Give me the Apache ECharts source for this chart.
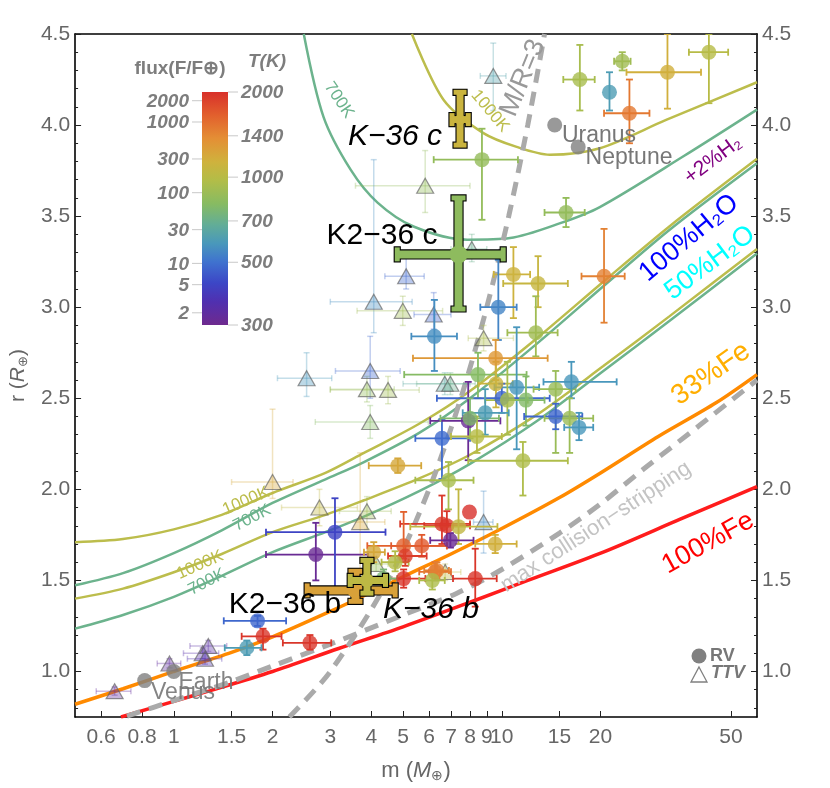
<!DOCTYPE html>
<html><head><meta charset="utf-8">
<script src="https://cdn.jsdelivr.net/npm/echarts@6/dist/echarts.min.js"></script>
<style>html,body{margin:0;padding:0;background:#fff}#c{width:830px;height:788px}</style>
</head><body><div id="c"></div>
<script>
// ---------- tick labels ----------
const xTicks = [0.6, 0.8, 1, 1.5, 2, 3, 4, 5, 6, 7, 8, 9, 10, 15, 20, 50];
const yTicks = [1.0, 1.5, 2.0, 2.5, 3.0, 3.5, 4.0, 4.5];
const yMinor = [0.8,0.9,1.1,1.2,1.3,1.4,1.6,1.7,1.8,1.9,2.1,2.2,2.3,2.4,2.6,2.7,2.8,2.9,3.1,3.2,3.3,3.4,3.6,3.7,3.8,3.9,4.1,4.2,4.3,4.4];
const fluxTicks = [2000, 1000, 300, 100, 30, 10, 5, 2];
const tempTicks = [2000, 1400, 1000, 700, 500, 300];

// ---------- model curves (mass, radius) ----------
const fe100M = [0.69, 1, 1.26, 2, 3.18, 5, 8, 12, 20.3, 35, 60];
const fe100R = [0.75, 0.836, 0.889, 1.0, 1.126, 1.245, 1.38, 1.50, 1.654, 1.836, 2.015];
const fe33M = [0.5, 0.7, 1, 1.5, 2, 3, 4, 5, 7, 10, 15, 20, 30, 45, 60];
const fe33R = [0.82, 0.905, 1.0, 1.105, 1.19, 1.33, 1.435, 1.52, 1.645, 1.785, 1.955, 2.09, 2.29, 2.475, 2.63];
const collM = [0.72, 1, 1.5, 2, 3, 5, 7.3, 10, 15, 20, 27, 40, 60];
const collR = [0.755, 0.84, 0.945, 1.03, 1.15, 1.31, 1.43, 1.56, 1.76, 1.92, 2.11, 2.35, 2.6];
const mr3M = [2.25, 3, 4.5, 6, 7.5, 9, 10.5, 12, 13.5];
const mr3R = [0.75, 1.0, 1.5, 2.0, 2.5, 3.0, 3.5, 4.0, 4.5];
const h2oM = [0.5, 0.7, 1, 1.4, 2, 2.9, 3.8, 5.6, 8, 12.8, 20.4, 32.5, 60];
const w100hotR  = [1.71, 1.727, 1.78, 1.86, 1.98, 2.09, 2.20, 2.36, 2.54, 2.83, 3.14, 3.445, 3.815];
const w100warmR = [1.473, 1.54, 1.65, 1.775, 1.925, 2.055, 2.15, 2.31, 2.50, 2.80, 3.115, 3.425, 3.79];
const w50hotR   = [1.40, 1.455, 1.545, 1.645, 1.765, 1.86, 1.94, 2.06, 2.19, 2.41, 2.677, 2.951, 3.32];
const w50warmR  = [1.235, 1.31, 1.41, 1.525, 1.655, 1.765, 1.85, 1.99, 2.14, 2.375, 2.65, 2.925, 3.295];
const h2warmM = [2.49, 2.86, 3.46, 4.18, 5.38, 7.85, 10.6, 15, 19.9, 35.6, 60];
const h2warmR = [4.5, 4.045, 3.755, 3.574, 3.443, 3.371, 3.38, 3.46, 3.55, 3.826, 4.085];
const h2hotM = [5.32, 6.65, 8.79, 11.1, 14.0, 19.9, 31.7, 60];
const h2hotR = [4.5, 4.138, 3.956, 3.88, 3.837, 3.873, 4.028, 4.235];

// ---------- RV planets ----------
const rvM   = [1.80,1.87,1.67,2.60,2.71,3.10,4.82,6.57,6.88,7.97,6.57,6.8,7.38,6.97,5.02,5.7,5.08,5.02,6.26,4.73,4.07,4.36,8.3,9.55,6.34,6.14,10.85,12.9,20.5,9.76,12.7,9.58,8.46,6.23,9.6,11.1,10.0,10.4,11.85,8.9,14.6,16.3,14.6,16.1,17.2,7.9,8.0,8.4,11.6,8.7,15.7,17.3,23.3,21.3,24.5,32,42.8];
const rvMlo = [1.42,1.61,1.43,2.15,1.91,1.91,3.93,5.45,5.45,7.97,4.9,5.8,5.26,6.05,3.89,4.6,4.5,4.46,5.6,4.3,3.8,4.0,7.1,8.3,5.8,5.6,9.45,10.1,17.5,8.6,10.4,5.36,5.04,5.3,8.5,9.5,6.34,8.9,10.0,7.6,12.5,13.4,11.7,13.5,15.5,6.05,6.5,7.0,7.9,6.2,13.5,15.4,22.0,21.3,20.5,24,37.2];
const rvMhi = [2.20,2.13,1.85,3.02,3.91,4.42,5.68,8.0,8.2,7.97,8.0,8.0,9.7,8.2,6.8,6.8,5.9,5.85,7.0,5.2,4.4,4.8,9.65,11.1,6.9,6.7,12.2,15.9,23.7,11.1,14.8,13.8,11.9,7.3,10.8,13.0,14.0,12.0,13.5,10.5,16.8,22.4,17.6,19.0,19.0,9.9,9.8,10.0,15.9,11.2,17.9,19.2,24.7,21.3,28.2,40.5,49];
const rvR   = [1.278,1.193,1.13,1.157,1.642,1.765,2.13,2.28,2.05,1.875,1.81,1.80,1.795,1.72,1.69,1.69,1.634,1.51,1.547,1.60,1.655,1.51,1.51,1.70,1.555,1.50,3.18,3.13,3.17,3.0,2.86,2.72,2.63,2.84,2.58,2.56,2.50,2.49,2.49,2.42,2.55,2.59,2.40,2.39,2.34,2.376,2.39,2.29,2.157,3.81,3.52,4.25,4.35,4.18,4.065,4.29,4.40];
const rvRlo = [1.25,1.12,1.09,1.12,1.50,1.445,2.09,2.057,1.89,1.875,1.70,1.72,1.70,1.68,1.62,1.63,1.58,1.46,1.50,1.55,1.60,1.46,1.356,1.65,1.51,1.45,2.94,3.0,2.915,2.82,2.73,2.60,2.50,2.65,2.45,2.22,2.42,2.30,2.35,2.30,2.20,2.50,2.33,2.20,2.27,2.16,2.28,2.20,1.966,3.48,3.44,4.08,4.30,4.08,3.90,4.09,4.12];
const rvRhi = [1.305,1.235,1.17,1.20,1.816,1.951,2.17,2.386,2.15,1.875,1.966,1.88,2.0,1.76,1.876,1.75,1.69,1.56,1.60,1.66,1.71,1.56,1.674,1.75,1.60,1.55,3.33,3.28,3.43,3.26,3.06,2.82,2.75,3.04,2.70,2.89,2.58,2.70,2.62,2.55,2.65,2.70,2.47,2.50,2.42,2.59,2.50,2.40,2.26,3.98,3.60,4.44,4.40,4.29,4.25,4.5,4.5];
const rvT   = [480,1950,600,1950,310,415,1200,490,930,2000,1930,1960,1050,310,1650,1700,1900,1950,1550,980,1200,760,1950,1150,1450,950,1120,1080,1450,540,900,1300,800,560,1100,580,480,930,790,600,870,580,480,880,580,310,780,1000,960,850,850,930,900,600,1500,1150,1000];

// ---------- TTV planets ----------
const ttvM   = [0.66,0.97,1.225,1.274,1.245,2.0,2.78,3.88,3.7,3.97,4.14,6.72,8.8,5.84,4.07,4.99,5.11,6.2,2.54,3.97,3.88,4.5,8.8,6.7,6.97,9.42,8.1];
const ttvMlo = [0.58,0.89,1.07,1.12,1.10,1.5,2.13,3.2,3.1,2.7,3.8,6.0,8.2,3.58,3.0,3.62,4.4,5.4,2.07,3.11,3.0,3.0,7.9,5.0,5.5,8.6,7.0];
const ttvMhi = [0.74,1.05,1.37,1.45,1.40,2.31,3.63,4.6,4.4,5.97,4.5,7.5,9.4,8.0,5.33,6.6,5.8,7.0,3.03,4.9,4.7,5.6,10.85,8.0,8.3,10.3,9.0];
const ttvR   = [0.892,1.044,1.10,1.14,1.07,2.04,1.90,1.88,1.82,2.37,1.59,1.546,1.82,3.667,3.03,2.98,3.17,2.96,2.61,2.65,2.55,2.546,2.83,2.58,2.58,4.27,3.32];
const ttvRlo = [0.87,1.02,1.07,1.11,1.04,1.95,1.80,1.78,1.55,2.28,1.55,1.50,1.65,3.52,2.86,2.90,3.10,2.88,2.51,2.50,2.48,2.47,2.76,2.52,2.52,4.08,3.25];
const ttvRhi = [0.915,1.07,1.13,1.17,1.10,2.44,2.0,1.96,2.2,2.46,1.63,1.59,1.99,3.86,3.81,3.06,3.30,3.08,2.75,2.84,2.62,2.62,2.90,2.64,2.64,4.45,3.40];
const ttvT   = [320,330,350,340,360,1200,1050,900,1200,800,850,1050,550,850,560,900,480,470,580,480,850,900,950,650,700,620,700];

// ---------- Solar system ----------
const solarNames = ['Venus', 'Earth', 'Uranus', 'Neptune'];
const solarM = [0.815, 1.0, 14.5, 17.1];
const solarR = [0.95, 1.0, 4.0, 3.88];

// ---------- highlighted planets ----------
const hiNames = ['K2-36 c', 'K-36 c', 'K2-36 b', 'K-36 b'];
const hiM   = [7.38, 7.46, 3.58, 3.88];
const hiMlo = [4.8, 7.05, 2.55, 3.45];
const hiMhi = [10.1, 7.9, 4.73, 4.42];
const hiR   = [3.29, 4.03, 1.445, 1.50];
const hiRlo = [2.99, 3.89, 1.385, 1.43];
const hiRhi = [3.60, 4.18, 1.55, 1.61];
const hiT   = [830, 1100, 1240, 1030];

// ---------- styling helpers ----------
const L = Math.log10;
const FONT = '"Liberation Sans", Arial, sans-serif';
const cmap = [[0,'#6e2a8e'],[0.1,'#5030b0'],[0.18,'#3c46c6'],[0.27,'#3f72cf'],[0.35,'#4998bb'],[0.43,'#62ad97'],[0.52,'#87bb62'],[0.62,'#b2bd48'],[0.70,'#cfb23d'],[0.80,'#e48f35'],[0.90,'#e2602d'],[1,'#d8302a']];
function hex(h){return [parseInt(h.slice(1,3),16),parseInt(h.slice(3,5),16),parseInt(h.slice(5,7),16)];}
const T0 = 300, T1 = 2000;
function tFrac(T){return Math.max(0, Math.min(1, (L(T)-L(T0))/(L(T1)-L(T0))));}
function tColor(T, a){
  const t = tFrac(T);
  let i = 0; while (i < cmap.length-2 && t > cmap[i+1][0]) i++;
  const f = (t - cmap[i][0])/(cmap[i+1][0]-cmap[i][0]);
  const c0 = hex(cmap[i][1]), c1 = hex(cmap[i+1][1]);
  const c = c0.map((v,k)=>Math.round(v + (c1[k]-v)*f));
  return a == null ? `rgb(${c[0]},${c[1]},${c[2]})` : `rgba(${c[0]},${c[1]},${c[2]},${a})`;
}
const OLIVE = '#bcbd4c', TEAL = '#6cb38d';

function curve(ms, rs, color, width, dash, z){
  return {type:'line', data: ms.map((m,i)=>[L(m), rs[i]]), smooth:0.3, showSymbol:false, symbol:'none',
    lineStyle:{color, width, type: dash || 'solid', cap:'butt'}, z: z||2, silent:true, clip:true, animation:false};
}
function errSeries(M, Mlo, Mhi, R, Rlo, Rhi, colors, lw, cap, z){
  return {type:'custom', clip:true, silent:true, animation:false, z,
    data: M.map((m,i)=>[L(m), R[i], L(Mlo[i]), L(Mhi[i]), Rlo[i], Rhi[i]]),
    encode:{x:[0,2,3], y:[1,4,5]},
    renderItem:(p, api)=>{
      const c = colors[p.dataIndex];
      const pc = api.coord([api.value(0), api.value(1)]);
      const pl = api.coord([api.value(2), api.value(1)]);
      const ph = api.coord([api.value(3), api.value(1)]);
      const pb = api.coord([api.value(0), api.value(4)]);
      const pt = api.coord([api.value(0), api.value(5)]);
      const st = {stroke:c, lineWidth:lw};
      const ln = (x1,y1,x2,y2)=>({type:'line', shape:{x1,y1,x2,y2}, style:st});
      const ch = [];
      if (ph[0]-pl[0] > 1){
        ch.push(ln(pl[0],pc[1],ph[0],pc[1]), ln(pl[0],pc[1]-cap,pl[0],pc[1]+cap), ln(ph[0],pc[1]-cap,ph[0],pc[1]+cap));
      }
      if (pb[1]-pt[1] > 1){
        ch.push(ln(pc[0],pt[1],pc[0],pb[1]), ln(pc[0]-cap,pt[1],pc[0]+cap,pt[1]), ln(pc[0]-cap,pb[1],pc[0]+cap,pb[1]));
      }
      return {type:'group', children:ch};
    }};
}

const rvCol = rvT.map(t=>tColor(t));
const ttvCol = ttvT.map(t=>tColor(t, 0.32));
const ttvFill = ttvT.map(t=>tColor(t, 0.45));
const hiCol = hiT.map(t=>tColor(t));
const hiThick = [8, 7, 8, 7];
const hiDot = [9, 5, 8, 7];

const series = [
  curve(h2warmM, h2warmR, TEAL, 2.5),
  curve(h2hotM, h2hotR, OLIVE, 2.5),
  curve(h2oM, w100hotR, OLIVE, 2.5),
  curve(h2oM, w100warmR, TEAL, 2.5),
  curve(h2oM, w50hotR, OLIVE, 2.5),
  curve(h2oM, w50warmR, TEAL, 2.5),
  curve(fe33M, fe33R, '#ff8a00', 3.5, null, 3),
  curve(fe100M, fe100R, '#ff1c1c', 3.5, null, 3),
  curve(collM, collR, '#aaaaaa', 5, [14, 9], 3),
  curve(mr3M, mr3R, '#aaaaaa', 5, [14, 9], 3),
  errSeries(ttvM, ttvMlo, ttvMhi, ttvR, ttvRlo, ttvRhi, ttvCol, 1.5, 3, 4),
  {type:'scatter', z:5, symbol:'triangle', symbolSize:[17,15], silent:true, animation:false,
    data: ttvM.map((m,i)=>({value:[L(m), ttvR[i]], itemStyle:{color: ttvFill[i], borderColor:'rgba(100,100,100,0.85)', borderWidth:1.2}}))},
  errSeries(rvM, rvMlo, rvMhi, rvR, rvRlo, rvRhi, rvCol, 1.8, 3.5, 6),
  {type:'scatter', z:7, symbol:'circle', symbolSize:15, silent:true, animation:false,
    data: rvM.map((m,i)=>({value:[L(m), rvR[i]], itemStyle:{color: rvCol[i]}}))},
  {type:'scatter', z:7, symbol:'circle', symbolSize:15, silent:true, animation:false,
    data: solarM.map((m,i)=>({name: solarNames[i], value:[L(m), solarR[i]]})), itemStyle:{color:'#808080'}},
  {type:'custom', z:9, clip:true, silent:true, animation:false,
    data: hiM.map((m,i)=>[L(m), hiR[i], L(hiMlo[i]), L(hiMhi[i]), hiRlo[i], hiRhi[i]]),
    encode:{x:[0,2,3], y:[1,4,5]},
    renderItem:(p, api)=>{
      const i = p.dataIndex, c = hiCol[i], th = hiThick[i];
      const pc = api.coord([api.value(0), api.value(1)]);
      const pl = api.coord([api.value(2), api.value(1)]);
      const ph = api.coord([api.value(3), api.value(1)]);
      const pb = api.coord([api.value(0), api.value(4)]);
      const pt = api.coord([api.value(0), api.value(5)]);
      const cl = th + 6, cw = 5;
      const rects = [
        {x:pl[0], y:pc[1]-th/2, width:ph[0]-pl[0], height:th},
        {x:pl[0]-cw/2, y:pc[1]-cl/2, width:cw, height:cl},
        {x:ph[0]-cw/2, y:pc[1]-cl/2, width:cw, height:cl},
        {x:pc[0]-th/2, y:pt[1], width:th, height:pb[1]-pt[1]},
        {x:pc[0]-cl/2, y:pt[1]-cw/2, width:cl, height:cw},
        {x:pc[0]-cl/2, y:pb[1]-cw/2, width:cl, height:cw}
      ];
      const ch = rects.map(s=>({type:'rect', shape:s, style:{fill:c, stroke:'#000', lineWidth:2.2}}))
        .concat(rects.map(s=>({type:'rect', shape:s, style:{fill:c}})))
        .concat([{type:'circle', shape:{cx:pc[0], cy:pc[1], r:hiDot[i]}, style:{fill:c}}]);
      return {type:'group', children:ch};
    }}
];

// ---------- annotations & colour bar ----------
function txt(text, x, y, color, size, opts){
  opts = opts || {};
  return {type:'text', x, y, rotation:(opts.rot||0)*Math.PI/180, z:20, silent:true,
    style:{text, fill:color, font:`${opts.style||'normal'} ${opts.weight||'normal'} ${size}px ${FONT}`,
      align:opts.align||'center', verticalAlign:'middle', textAlign:opts.align||'center', textVerticalAlign:'middle', opacity: opts.op==null?1:opts.op}};
}
const cbX = 202, cbY = 92, cbW = 26, cbH = 233;
const cbPos = T => cbY + cbH*(L(T1)-L(T))/(L(T1)-L(T0));
const graphics = [];
graphics.push({type:'rect', shape:{x:cbX, y:cbY, width:cbW, height:cbH}, z:15, silent:true,
  style:{fill: new echarts.graphic.LinearGradient(0,0,0,1, cmap.map(s=>({offset:1-s[0], color:s[1]})).reverse())}});
fluxTicks.forEach(f=>{
  const y = cbPos(278.6*Math.pow(f, 0.25));
  graphics.push({type:'line', shape:{x1:cbX-10, y1:y, x2:cbX, y2:y}, style:{stroke:'#c8c8c8', lineWidth:1}, z:15, silent:true});
  graphics.push(txt(String(f), cbX-13, y+1, '#7d7d7d', 19, {align:'right', style:'italic', weight:'bold'}));
});
tempTicks.forEach(t=>{
  const y = cbPos(t);
  graphics.push({type:'line', shape:{x1:cbX+cbW, y1:y, x2:cbX+cbW+10, y2:y}, style:{stroke:'#c8c8c8', lineWidth:1}, z:15, silent:true});
  graphics.push(txt(String(t), cbX+cbW+13, y+1, '#7d7d7d', 19, {align:'left', style:'italic', weight:'bold'}));
});
graphics.push(txt('flux(F/F⊕)', 180, 69, '#7d7d7d', 19, {weight:'bold'}));
graphics.push(txt('T(K)', 267, 62, '#7d7d7d', 19, {weight:'bold', style:'italic'}));

graphics.push(txt('K−36 c', 395, 137, '#000', 30, {style:'italic'}));
graphics.push(txt('K2−36 c', 382, 236, '#000', 30));
graphics.push(txt('K2−36 b', 285, 605, '#000', 30));
graphics.push(txt('K−36 b', 431, 610, '#000', 30, {style:'italic'}));
graphics.push(txt('Uranus', 599, 136, '#777', 23));
graphics.push(txt('Neptune', 629, 158, '#777', 23));
graphics.push(txt('Earth', 206, 683, '#777', 23, {op:0.9}));
graphics.push(txt('Venus', 183, 693, '#777', 23, {op:0.9}));
graphics.push(txt('M/R=3', 523, 78, '#999', 27, {rot:68}));
graphics.push(txt('700K', 339, 100, TEAL, 17, {rot:-56}));
graphics.push(txt('1000K', 490, 111, OLIVE, 17, {rot:-50}));
graphics.push(txt('+2%H₂', 713, 160, '#800080', 21, {rot:37}));
graphics.push(txt('100%H₂O', 689, 238, '#0000ff', 27, {rot:40}));
graphics.push(txt('50%H₂O', 710, 263, '#00ffff', 27, {rot:37}));
graphics.push(txt('33%Fe', 711, 374, '#ffae00', 28, {rot:35}));
graphics.push(txt('max collision−stripping', 596, 527, '#c4c4c4', 22, {rot:33}));
graphics.push(txt('100%Fe', 708, 543, '#ff0000', 27, {rot:29}));
graphics.push(txt('1000K', 246, 501, OLIVE, 17, {rot:23}));
graphics.push(txt('700K', 252, 518, TEAL, 17, {rot:27}));
graphics.push(txt('1000K', 200, 565, OLIVE, 17, {rot:24}));
graphics.push(txt('700K', 207, 582, TEAL, 17, {rot:27}));
// legend
graphics.push({type:'circle', shape:{cx:699, cy:656, r:7.5}, style:{fill:'#808080'}, z:20, silent:true});
graphics.push(txt('RV', 710, 656, '#777', 18, {align:'left', weight:'bold'}));
graphics.push({type:'polygon', shape:{points:[[699,667],[707,682],[691,682]]}, style:{fill:'none', stroke:'#808080', lineWidth:1.3}, z:20, silent:true});
graphics.push(txt('TTV', 711, 673, '#777', 18, {align:'left', weight:'bold', style:'italic'}));

const xmin = L(0.5), xmax = L(60);
const xt = xTicks.map(L);
const fmtX = v => String(parseFloat(Math.pow(10, v).toPrecision(2)));
const frame = {show:true, onZero:false, lineStyle:{color:'#000', width:1.6}};
const noLine = {show:false, onZero:false};
const lblStyle = {color:'#666', fontSize:21, fontFamily:FONT};

const option = {
  animation:false,
  backgroundColor:'#fff',
  textStyle:{fontFamily:FONT},
  grid:{left:74, right:73, top:34, bottom:70, containLabel:false},
  xAxis:[
    {type:'value', min:xmin, max:xmax, position:'bottom', axisLine:frame,
     axisTick:{show:true, inside:true, length:6, lineStyle:{color:'#222', width:1}, customValues:xt},
     axisLabel:{...lblStyle, margin:10, customValues:xt, formatter:fmtX, hideOverlap:false},
     splitLine:{show:false},
     name:'{a|m (}{b|M}{c|⊕}{a|)}', nameLocation:'middle', nameGap:42,
     nameTextStyle:{rich:{a:{fontSize:22, color:'#666', fontFamily:FONT}, b:{fontSize:22, color:'#666', fontStyle:'italic', fontFamily:FONT}, c:{fontSize:14, color:'#666', padding:[10,0,0,0], fontFamily:FONT}}}},
    {type:'value', min:xmin, max:xmax, position:'top', axisLine:frame, axisTick:{show:false}, axisLabel:{show:false}, splitLine:{show:false}}
  ],
  yAxis:[
    {type:'value', min:0.75, max:4.5, position:'left', axisLine:frame,
     axisTick:{show:true, inside:true, length:6, lineStyle:{color:'#222'}, customValues:yTicks},
     axisLabel:{...lblStyle, margin:5, customValues:yTicks, formatter:v=>v.toFixed(1)},
     splitLine:{show:false},
     name:'{a|r (}{b|R}{c|⊕}{a|)}', nameLocation:'middle', nameGap:44, nameRotate:90,
     nameTextStyle:{rich:{a:{fontSize:21, color:'#666', fontFamily:FONT}, b:{fontSize:21, color:'#666', fontStyle:'italic', fontFamily:FONT}, c:{fontSize:13, color:'#666', padding:[10,0,0,0], fontFamily:FONT}}}},
    {type:'value', min:0.75, max:4.5, position:'right', axisLine:frame,
     axisTick:{show:true, inside:true, length:6, lineStyle:{color:'#222'}, customValues:yTicks},
     axisLabel:{...lblStyle, margin:5, customValues:yTicks, formatter:v=>v.toFixed(1)},
     splitLine:{show:false}},
    {type:'value', min:0.75, max:4.5, position:'left', axisLine:noLine,
     axisTick:{show:true, inside:true, length:3, lineStyle:{color:'#222'}, customValues:yMinor},
     axisLabel:{show:false}, splitLine:{show:false}},
    {type:'value', min:0.75, max:4.5, position:'right', axisLine:noLine,
     axisTick:{show:true, inside:true, length:3, lineStyle:{color:'#222'}, customValues:yMinor},
     axisLabel:{show:false}, splitLine:{show:false}}
  ],
  series,
  graphic:{elements:graphics}
};
const chart = echarts.init(document.getElementById('c'), null, {renderer:'canvas'});
chart.setOption(option);
</script></body></html>
